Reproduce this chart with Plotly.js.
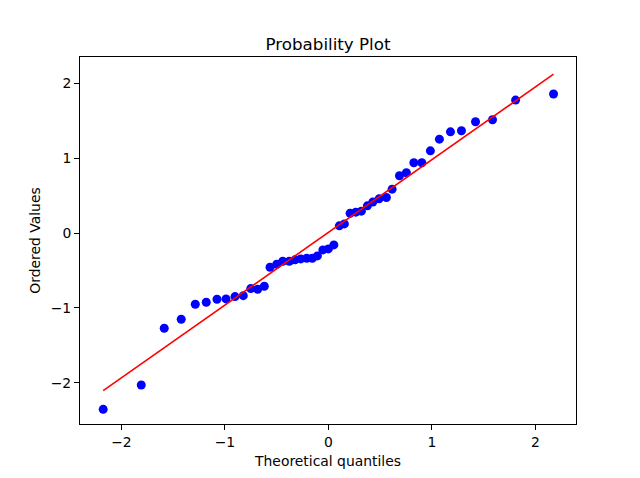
<!DOCTYPE html>
<html>
<head>
<meta charset="utf-8">
<script src="https://cdn.plot.ly/plotly-3.0.1.min.js"></script>
<style>html,body{margin:0;padding:0;background:#fff;}#chart{width:640px;height:478px;}</style>
</head>
<body>
<div id="chart"></div>
<script>
// Theoretical quantiles (x)
const theoreticalQuantiles = [
  -2.176, -1.808, -1.586, -1.422, -1.286, -1.180, -1.076, -0.989, -0.902, -0.822,
  -0.750, -0.683, -0.619, -0.564, -0.499, -0.441, -0.377, -0.322, -0.267, -0.209,
  -0.155, -0.106, -0.053, 0.000, 0.053, 0.106, 0.155, 0.210, 0.265, 0.319,
  0.377, 0.429, 0.490, 0.561, 0.616, 0.687, 0.754, 0.826, 0.903, 0.986,
  1.073, 1.180, 1.286, 1.422, 1.586, 1.809, 2.176
];
// Ordered values (y)
const orderedValues = [
  -2.355, -2.030, -1.271, -1.151, -0.950, -0.923, -0.883, -0.879, -0.848, -0.835,
  -0.741, -0.750, -0.709, -0.455, -0.415, -0.375, -0.375, -0.357, -0.344, -0.335,
  -0.335, -0.304, -0.224, -0.210, -0.157, 0.098, 0.124, 0.267, 0.281, 0.294,
  0.365, 0.415, 0.459, 0.477, 0.588, 0.767, 0.807, 0.941, 0.941, 1.101,
  1.257, 1.355, 1.369, 1.489, 1.516, 1.779, 1.860
];
// Least-squares fit line parameters
const fitSlope = 0.972;
const fitIntercept = 0.01;

const xTicks = [-2, -1, 0, 1, 2];
const yTicks = [-2, -1, 0, 1, 2];

const xMin = Math.min(...theoreticalQuantiles);
const xMax = Math.max(...theoreticalQuantiles);
const lineX = [xMin, xMax];
const lineY = lineX.map(v => fitSlope * v + fitIntercept);

const font = {family: 'DejaVu Sans', size: 13.9, color: '#000'};

const traces = [
  {
    x: theoreticalQuantiles, y: orderedValues, type: 'scatter', mode: 'markers',
    marker: {color: '#0000ff', size: 9, line: {width: 0}},
    showlegend: false, hoverinfo: 'x+y'
  },
  {
    x: lineX, y: lineY, type: 'scatter', mode: 'lines',
    line: {color: '#ff0000', width: 1.6},
    showlegend: false
  }
];

const axisCommon = {
  showline: true, mirror: true, linecolor: '#000', linewidth: 1,
  showgrid: false, zeroline: false, ticks: 'outside', ticklen: 5, tickwidth: 1,
  tickcolor: '#000', tickfont: font, tickmode: 'array'
};

const layout = {
  width: 640, height: 478,
  paper_bgcolor: '#fff', plot_bgcolor: '#fff',
  margin: {l: 80, r: 64, t: 57, b: 54, pad: 0},
  font: font,
  title: {text: 'Probability Plot', font: {family: 'DejaVu Sans', size: 16.7, color: '#000'},
          x: 0.5, xref: 'paper', y: 1 - 44 / 478, yref: 'container', yanchor: 'middle'},
  xaxis: Object.assign({}, axisCommon, {
    range: [-2.40, 2.393], tickvals: xTicks,
    title: {text: 'Theoretical quantiles', font: font, standoff: 7}
  }),
  yaxis: Object.assign({}, axisCommon, {
    range: [-2.551, 2.355], tickvals: yTicks,
    title: {text: 'Ordered Values', font: font, standoff: 6}
  })
};

Plotly.newPlot('chart', traces, layout, {displayModeBar: false, staticPlot: true});
</script>
</body>
</html>
